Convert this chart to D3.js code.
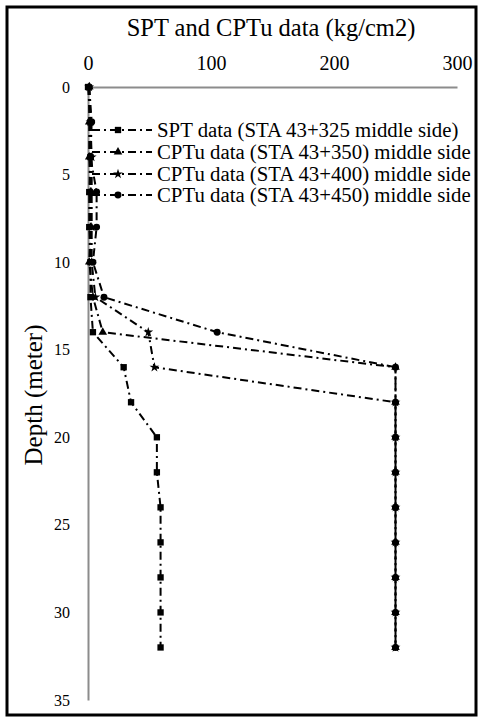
<!DOCTYPE html>
<html>
<head>
<meta charset="utf-8">
<script src="https://cdn.jsdelivr.net/npm/d3@7"></script>
<style>
  body { margin: 0; background: #fff; }
  text { font-family: "Liberation Serif", "Times New Roman", serif; fill: #000; }
</style>
</head>
<body>
<div id="chart"></div>
<script>
// depth in meters, one reading every 2 m
const depths = [0, 2, 4, 6, 8, 10, 12, 14, 16, 18, 20, 22, 24, 26, 28, 30, 32];

const sptValues    = [0, 2, 2, 1, 1, 2, 2, 4, 29, 35, 56, 56, 59, 59, 59, 59, 59];
const cptu350      = [1, 1, 1, 2, 2, 1, 4, 12, 250, 250, 250, 250, 250, 250, 250, 250, 250];
const cptu400      = [1, 2, 3, 3, 3, 3, 6, 49, 54, 250, 250, 250, 250, 250, 250, 250, 250];
const cptu450      = [1, 3, 2, 7, 7, 4, 13, 105, 250, 250, 250, 250, 250, 250, 250, 250, 250];

const seriesNames = [
    "SPT data (STA 43+325 middle side)",
    "CPTu data (STA 43+350) middle side",
    "CPTu data (STA 43+400) middle side",
    "CPTu data (STA 43+450) middle side"
];

const xTicks = [0, 100, 200, 300];
const yTicks = [0, 5, 10, 15, 20, 25, 30, 35];

const width = 483;
const height = 722;

const symbols = [d3.symbolSquare, d3.symbolTriangle, d3.symbolStar, d3.symbolCircle];
const symSizes = [40, 32, 30, 38];

const series = [sptValues, cptu350, cptu400, cptu450].map((vals, i) => ({
    name: seriesNames[i],
    points: vals.map((v, j) => ({ v: v, d: depths[j] })),
    symbol: symbols[i],
    size: symSizes[i]
}));

const svg = d3.select("#chart").append("svg")
    .attr("width", width)
    .attr("height", height);

// outer frame
svg.append("rect")
    .attr("x", 7).attr("y", 7)
    .attr("width", 469).attr("height", 708)
    .attr("fill", "none")
    .attr("stroke", "#000")
    .attr("stroke-width", 3);

const x = d3.scaleLinear().domain([0, 300]).range([88, 457]);
const y = d3.scaleLinear().domain([0, 35]).range([87, 700]);

// axes (top x axis, left y axis), no tick marks
const xAxis = svg.append("g")
    .attr("transform", `translate(0,${y(0)})`)
    .call(d3.axisTop(x).tickValues(xTicks).tickSize(0).tickPadding(17));
xAxis.select(".domain").attr("stroke", "#8c8c8c").attr("stroke-width", 2);
xAxis.selectAll("text").attr("font-size", 20).attr("font-family", "Liberation Serif");

const yAxis = svg.append("g")
    .attr("transform", `translate(${x(0)},0)`)
    .call(d3.axisLeft(y).tickValues(yTicks).tickSize(0).tickPadding(18));
yAxis.select(".domain").attr("stroke", "#8c8c8c").attr("stroke-width", 2);
yAxis.selectAll("text").attr("font-size", 16).attr("font-family", "Liberation Serif");

// titles
svg.append("text")
    .attr("x", 271).attr("y", 36)
    .attr("text-anchor", "middle")
    .attr("font-size", 24.5)
    .text("SPT and CPTu data (kg/cm2)");

svg.append("text")
    .attr("transform", "translate(42,395) rotate(-90)")
    .attr("text-anchor", "middle")
    .attr("font-size", 25)
    .text("Depth (meter)");

const line = d3.line()
    .x(d => x(d.v))
    .y(d => y(d.d));

const dash = "8,4,2,4";

const g = svg.append("g");
series.forEach(s => {
    g.append("path")
        .datum(s.points)
        .attr("d", line)
        .attr("fill", "none")
        .attr("stroke", "#000")
        .attr("stroke-width", 2)
        .attr("stroke-dasharray", dash);
    g.selectAll(null)
        .data(s.points)
        .enter().append("path")
        .attr("transform", d => `translate(${x(d.v)},${y(d.d)})`)
        .attr("d", d3.symbol().type(s.symbol).size(s.size))
        .attr("fill", "#000");
});

// legend
const legendY = [130, 152, 174, 195];
const legend = svg.append("g");
series.forEach((s, i) => {
    const row = legend.append("g").attr("transform", `translate(0,${legendY[i]})`);
    row.append("line")
        .attr("x1", 92).attr("x2", 152)
        .attr("y1", 0).attr("y2", 0)
        .attr("stroke", "#000")
        .attr("stroke-width", 2)
        .attr("stroke-dasharray", dash);
    row.append("path")
        .attr("transform", "translate(118,0)")
        .attr("d", d3.symbol().type(s.symbol).size(s.size))
        .attr("fill", "#000");
    row.append("text")
        .attr("x", 157).attr("y", 0)
        .attr("dy", "0.33em")
        .attr("font-size", 20.8)
        .text(s.name);
});
</script>
</body>
</html>
